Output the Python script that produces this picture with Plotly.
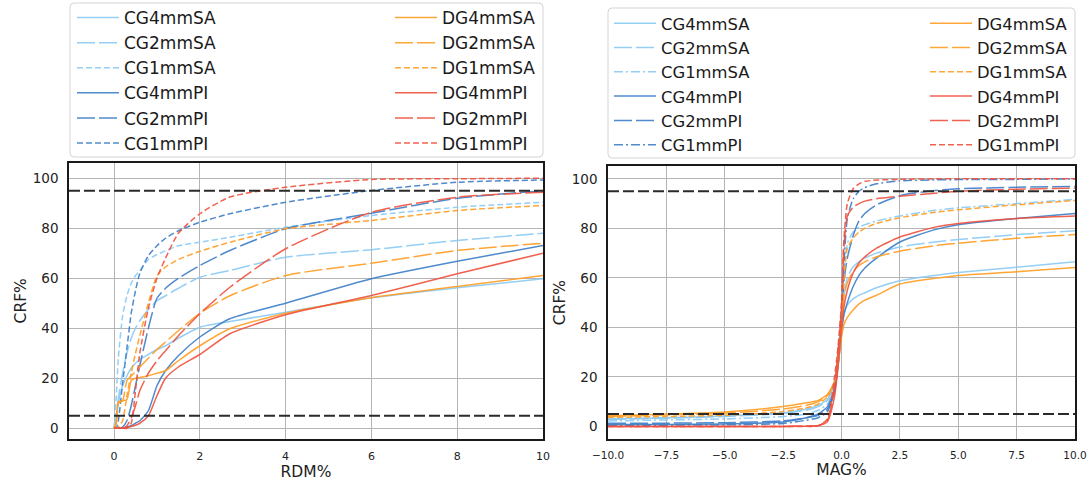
import plotly.graph_objects as go

# ---------------- data ----------------
# Left panel: CRF% vs RDM%
XL = [0, 0.05, 0.1, 0.2, 0.3, 0.4, 0.5, 0.6, 0.8, 1.0, 1.2, 1.5, 2, 2.7, 4, 6, 8, 10]
L_CG4mmSA = [0, 3, 10, 17, 21, 24, 26, 27.5, 29.5, 31.5, 33, 36, 40.4, 42.7, 46.4, 52.2, 56.2, 59.8]
L_CG2mmSA = [0, 4, 12, 22, 30, 36, 40, 43, 47.5, 51, 53, 56, 60.4, 63.1, 68.4, 71.4, 75.1, 78]
L_CG1mmSA = [0, 12, 28, 45, 53, 58, 61, 63, 67.5, 69.5, 71, 73, 74.4, 76.4, 80.4, 85.1, 88.4, 90.4]
L_CG4mmPI = [0, 0, 0, 0, 0.5, 1, 2, 3, 7, 17, 23, 29, 36.5, 43.8, 50, 59.8, 66.8, 73.1]
L_CG2mmPI = [0, 0, 0, 0.5, 3, 9, 17, 25, 40, 52, 56, 60, 65.1, 71.1, 79.8, 86, 92, 95]
L_CG1mmPI = [0, 0, 3, 18, 32, 46, 55, 62, 69, 73, 76, 79, 82.4, 85.8, 90.4, 95.1, 98.4, 99.3]
L_DG4mmSA = [0, 2, 10.5, 11, 11.5, 19, 20, 20.3, 21, 22, 23, 27, 33, 39.8, 46, 52.2, 56.7, 61.1]
L_DG2mmSA = [0, 2, 10, 11, 19, 21, 22.5, 24.5, 28, 31.5, 34.5, 39, 46, 53, 61.1, 66, 71.1, 74]
L_DG1mmSA = [0, 0, 0.5, 3, 13, 22, 30, 37, 50, 61, 64.5, 67.5, 70.8, 74.4, 79.8, 83.1, 87.1, 89.1]
L_DG4mmPI = [0, 0, 0, 0, 0.3, 0.7, 1.2, 2, 5, 13, 20, 24.5, 29.5, 37.8, 45.4, 53.1, 61.8, 70]
L_DG2mmPI = [0, 0, 0, 0, 1, 4, 9, 15, 22, 27, 31, 37, 45.8, 56.4, 71.8, 86.4, 92.4, 94.4]
L_DG1mmPI = [0, 0, 0, 0, 0, 2, 15, 30, 48, 60, 68, 78, 85.8, 92.5, 96.4, 99.5, 99.8, 100]

# Right panel: CRF% vs MAG%
XR = [-10, -7.5, -5, -2.5, -1.5, -1, -0.6, -0.3, -0.15, 0, 0.1, 0.25, 0.5, 0.75, 1, 1.5, 2.5, 4, 5, 7.5, 10]
R_CG4mmSA = [3.0, 3.5, 4.2, 5.5, 7, 8.5, 11, 18, 27, 40, 45, 49, 51.5, 53, 54, 56, 58.8, 61, 62.2, 64.3, 66.5]
R_CG2mmSA = [2.8, 3.3, 4.0, 5.2, 6.5, 8, 10.5, 17, 26, 42, 52, 60, 64.5, 66.5, 68, 70, 72.5, 74.5, 75.5, 77.5, 79]
R_CG1mmSA = [2.2, 2.6, 3, 4, 5, 6.5, 9, 17, 30, 45, 62, 74, 78.5, 80.5, 81.5, 83, 85, 87.3, 88.3, 90, 91.7]
R_CG4mmPI = [0.8, 0.8, 1, 1.8, 3.5, 5, 8, 15, 24, 38, 45, 50, 56.5, 61, 64, 68, 74.5, 79.5, 81.5, 84, 86]
R_CG2mmPI = [1.3, 1.3, 1.5, 2.2, 3.5, 4.5, 7, 14, 25, 44, 58, 68, 77, 83, 86, 89.5, 93.2, 95.3, 96, 96.6, 97]
R_CG1mmPI = [0.5, 0.5, 0.6, 1.2, 2.5, 3.5, 6, 14, 28, 45, 65, 84, 92, 95, 96.5, 98, 99.2, 99.6, 99.7, 99.8, 100]
R_DG4mmSA = [4.3, 5, 5.8, 8, 9.5, 10.5, 13, 18, 25, 36, 41, 44, 47, 49.5, 51, 53, 57.5, 59.8, 61, 62.5, 64.2]
R_DG2mmSA = [4.0, 4.6, 5.3, 7, 8.5, 10, 12.5, 18, 26, 40, 52, 58, 62.5, 65, 66.5, 68.5, 70.8, 73, 74, 76, 77.5]
R_DG1mmSA = [3.6, 4, 4.5, 6, 7.5, 9, 12, 18, 28, 42, 58, 72, 76, 78.5, 80, 82, 84.3, 86.5, 87.5, 89.5, 91.3]
R_DG4mmPI = [0, 0, 0, 0, 0.1, 0.3, 2, 12, 24, 40, 48, 55, 62, 66, 68.5, 72, 76.5, 80.5, 82, 84, 85]
R_DG2mmPI = [0, 0, 0, 0, 0.1, 0.3, 2.5, 16, 30, 48, 72, 85, 88.5, 90, 91, 92, 93, 94.2, 95, 95.8, 96.3]
R_DG1mmPI = [0, 0, 0, 0, 0, 0.2, 3, 20, 32, 50, 75, 90, 96, 98, 99, 99.5, 99.8, 100, 100, 100, 100]

CG_NAMES = ["CG4mmSA", "CG2mmSA", "CG1mmSA", "CG4mmPI", "CG2mmPI", "CG1mmPI"]
DG_NAMES = ["DG4mmSA", "DG2mmSA", "DG1mmSA", "DG4mmPI", "DG2mmPI", "DG1mmPI"]
THRESHOLDS = [5, 95]

LEFT = {
    "CG4mmSA": L_CG4mmSA, "CG2mmSA": L_CG2mmSA, "CG1mmSA": L_CG1mmSA,
    "CG4mmPI": L_CG4mmPI, "CG2mmPI": L_CG2mmPI, "CG1mmPI": L_CG1mmPI,
    "DG4mmSA": L_DG4mmSA, "DG2mmSA": L_DG2mmSA, "DG1mmSA": L_DG1mmSA,
    "DG4mmPI": L_DG4mmPI, "DG2mmPI": L_DG2mmPI, "DG1mmPI": L_DG1mmPI,
}
RIGHT = {
    "CG4mmSA": R_CG4mmSA, "CG2mmSA": R_CG2mmSA, "CG1mmSA": R_CG1mmSA,
    "CG4mmPI": R_CG4mmPI, "CG2mmPI": R_CG2mmPI, "CG1mmPI": R_CG1mmPI,
    "DG4mmSA": R_DG4mmSA, "DG2mmSA": R_DG2mmSA, "DG1mmSA": R_DG1mmSA,
    "DG4mmPI": R_DG4mmPI, "DG2mmPI": R_DG2mmPI, "DG1mmPI": R_DG1mmPI,
}

# ---------------- styles ----------------
FONT = "DejaVu Sans"
COLORS = {"CGSA": "#8ACAF4", "CGPI": "#3D7EC8", "DGSA": "#FF9D22", "DGPI": "#F0513E"}
DASH_2MM = "18px,4px"
DASH_1MM = "6px,3px"
DASH_DOTDASH = "9px,3px,2px,3px"


def style(name, panel):
    color = COLORS[name[:2] + name[-2:]]
    if name[2] == "4":
        dash = "solid"
    elif name[2] == "2":
        dash = DASH_2MM
    else:
        dash = DASH_DOTDASH if (panel == "right" and name.startswith("CG")) else DASH_1MM
    return color, dash


fig = go.Figure()

for panel, data, xs, xa, ya, lg_cg, lg_dg in [
    ("left", LEFT, XL, "x", "y", "legend", "legend2"),
    ("right", RIGHT, XR, "x2", "y2", "legend3", "legend4"),
]:
    for name in CG_NAMES + DG_NAMES:
        color, dash = style(name, panel)
        fig.add_trace(go.Scatter(
            x=xs, y=data[name], name=name, mode="lines",
            xaxis=xa, yaxis=ya,
            legend=lg_cg if name.startswith("CG") else lg_dg,
            line=dict(color=color, dash=dash, width=1.5, shape="spline", smoothing=0.6),
            opacity=0.9,
        ))

W, H = 1090, 482
ML, MR, MT, MB = 69, 15, 160, 43
PW, PH = W - ML - MR, H - MT - MB


def px_x(px):
    return (px - ML) / PW


def px_y(py):
    return (H - MB - py) / PH


def rounded_frame(x0, x1, y0, y1, r=4):
    # rounded rectangle path in paper coordinates (pixel inputs)
    X0, X1 = px_x(x0), px_x(x1)
    YT, YB = px_y(y0), px_y(y1)
    rx, ry = r / PW, r / PH
    return (f"M{X0 + rx},{YT} L{X1 - rx},{YT} Q{X1},{YT} {X1},{YT - ry} "
            f"L{X1},{YB + ry} Q{X1},{YB} {X1 - rx},{YB} "
            f"L{X0 + rx},{YB} Q{X0},{YB} {X0},{YB + ry} "
            f"L{X0},{YT - ry} Q{X0},{YT} {X0 + rx},{YT} Z")


shapes = []
# legend frames
for x0, x1, y0, y1 in [(70, 543, 3, 157), (608, 1075, 8, 158)]:
    shapes.append(dict(type="path", xref="paper", yref="paper",
                       path=rounded_frame(x0, x1, y0, y1),
                       fillcolor="white", line=dict(color="#d4d4d4", width=1), layer="above"))
# threshold lines
for ya in ["y", "y2"]:
    xa = "x" if ya == "y" else "x2"
    for t in THRESHOLDS:
        shapes.append(dict(type="line", xref=f"{xa} domain", yref=ya, x0=0, x1=1, y0=t, y1=t,
                           line=dict(color="#2a2a2a", width=1.8, dash="11px,4px"), layer="above"))

grid = "#b5b5b5"
axis_common = dict(showgrid=True, gridcolor=grid, gridwidth=1, zeroline=False,
                   showline=True, mirror=True, linecolor="#1a1a1a", linewidth=1.6,
                   ticks="", color="#222222")


def legend_style(size):
    return dict(orientation="v", xanchor="left", yanchor="top",
                bgcolor="rgba(0,0,0,0)", borderwidth=0,
                font=dict(family=FONT, size=size, color="#1a1a1a"),
                itemwidth=42, tracegroupgap=0)


fig.update_layout(
    width=W, height=H,
    margin=dict(l=ML, r=MR, t=MT, b=MB, autoexpand=False),
    paper_bgcolor="white", plot_bgcolor="white",
    font=dict(family=FONT, color="#1a1a1a"),
    showlegend=True,
    shapes=shapes,
    xaxis=dict(domain=[0, px_x(543)], range=[-1.05, 10], tickvals=[0, 2, 4, 6, 8, 10],
               tickfont=dict(size=11), ticklabelstandoff=6,
               title=dict(text="RDM%", font=dict(size=15.5), standoff=0), anchor="y", **axis_common),
    yaxis=dict(domain=[0, px_y(162.5)], range=[-4.3, 106.3], tickvals=[0, 20, 40, 60, 80, 100],
               tickfont=dict(size=13.5), ticklabelstandoff=6,
               title=dict(text="CRF%", font=dict(size=15.5), standoff=2), anchor="x", **axis_common),
    xaxis2=dict(domain=[px_x(608), 1], range=[-10, 10],
                tickvals=[-10, -7.5, -5, -2.5, 0, 2.5, 5, 7.5, 10], tickformat=".1f",
                tickfont=dict(size=10.5), ticklabelstandoff=6,
                title=dict(text="MAG%", font=dict(size=15.5), standoff=2), anchor="y2", **axis_common),
    yaxis2=dict(domain=[0, px_y(166)], range=[-5.1, 105.2], tickvals=[0, 20, 40, 60, 80, 100],
                tickfont=dict(size=13.5), ticklabelstandoff=6,
                title=dict(text="CRF%", font=dict(size=15.5), standoff=2), anchor="x2", **axis_common),
    legend=dict(x=px_x(72), y=px_y(0), **legend_style(17)),
    legend2=dict(x=px_x(390), y=px_y(0), **legend_style(17)),
    legend3=dict(x=px_x(609), y=px_y(6), **legend_style(16.4)),
    legend4=dict(x=px_x(925), y=px_y(6), **legend_style(16.4)),
)

fig.write_html(
    "out.html",
    config={"displayModeBar": False},
    post_script="document.body.style.margin='0';document.body.style.overflow='hidden';",
)
